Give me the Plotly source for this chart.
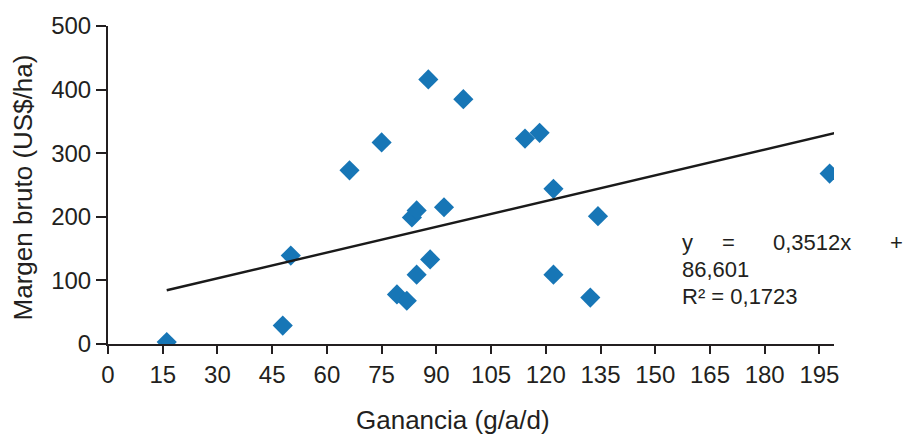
import plotly.graph_objects as go

# Data
ganancia = [16.1, 47.9, 50.1, 66.2, 75.0, 79.2, 81.9, 83.3, 84.6, 84.6, 88.3,
            87.8, 92.1, 97.4, 114.3, 118.3, 122.1, 122.1, 132.2, 134.3, 197.8]
margen = [3, 29, 139, 273, 317, 78, 68, 199, 210, 109, 133,
          416, 215, 385, 323, 332, 244, 109, 73, 201, 268]

# Trend line as drawn in the reference (end points)
trend_x = [16.1, 199.3]
trend_y = [84.5, 331.8]

x_ticks = [0, 15, 30, 45, 60, 75, 90, 105, 120, 135, 150, 165, 180, 195]
y_ticks = [0, 100, 200, 300, 400, 500]

eq_line1 = ["y", "=", "0,3512x", "+"]
eq_line2 = "86,601"
eq_line3 = "R² = 0,1723"
x_title = "Ganancia (g/a/d)"
y_title = "Margen bruto (US$/ha)"

W, H = 904, 435
L, R, T, B = 108, 70, 21, 91
PW, PH = W - L - R, H - T - B

def px(xp):
    return (xp - L) / PW

def py(yp):
    return (H - B - yp) / PH

FONT = "Liberation Sans, Arial, sans-serif"
INK = "#231f20"

fig = go.Figure()
fig.add_trace(go.Scatter(
    x=ganancia, y=margen, mode="markers",
    marker=dict(symbol="diamond", size=15.5, color="#1776b6", line=dict(width=0)),
    showlegend=False, hoverinfo="skip"))
fig.add_trace(go.Scatter(
    x=trend_x, y=trend_y, mode="lines",
    line=dict(color="#1a1a1a", width=2.4),
    showlegend=False, hoverinfo="skip"))

fig.update_layout(
    width=W, height=H,
    margin=dict(l=L, r=R, t=T, b=B),
    paper_bgcolor="white", plot_bgcolor="white",
    font=dict(family=FONT, color=INK, size=24),
    xaxis=dict(range=[0, 199], tickvals=x_ticks, ticktext=[str(v) for v in x_ticks],
               showgrid=False, zeroline=False, showline=True, linecolor=INK, linewidth=2,
               ticks="outside", ticklen=8, tickwidth=2, tickcolor=INK,
               tickfont=dict(size=24, family=FONT, color=INK)),
    yaxis=dict(range=[0, 500], tickvals=y_ticks, ticktext=[str(v) for v in y_ticks],
               showgrid=False, zeroline=False, showline=True, linecolor=INK, linewidth=2,
               ticks="outside", ticklen=10, tickwidth=2, tickcolor=INK,
               tickfont=dict(size=24, family=FONT, color=INK)),
)

ann = []
eq_font = dict(family=FONT, size=22, color=INK)
# equation line 1 (justified pieces)
ann.append(dict(text=eq_line1[0], x=px(680), y=py(241), xanchor="left"))
ann.append(dict(text=eq_line1[1], x=px(728), y=py(241), xanchor="center"))
ann.append(dict(text=eq_line1[2], x=px(812), y=py(241), xanchor="center"))
ann.append(dict(text=eq_line1[3], x=px(896), y=py(241), xanchor="center"))
ann.append(dict(text=eq_line2, x=px(680), y=py(268.5), xanchor="left"))
ann.append(dict(text=eq_line3, x=px(680), y=py(296), xanchor="left"))
for a in ann:
    a.update(xref="paper", yref="paper", yanchor="middle", showarrow=False, font=eq_font)

ann.append(dict(text=x_title, x=px(453), y=py(421.7), xref="paper", yref="paper",
                xanchor="center", yanchor="middle", showarrow=False,
                font=dict(family=FONT, size=26, color=INK)))
ann.append(dict(text=y_title, x=px(22.5), y=py(185.5), xref="paper", yref="paper",
                xanchor="center", yanchor="middle", showarrow=False, textangle=-90,
                font=dict(family=FONT, size=26, color=INK)))
fig.update_layout(annotations=ann)

fig.write_html("out.html")
